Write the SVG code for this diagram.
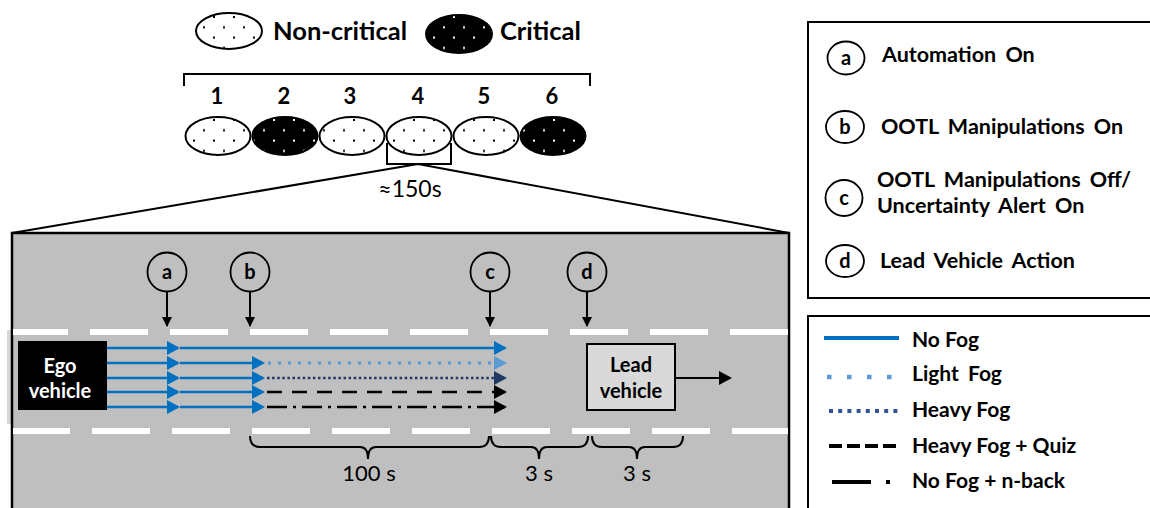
<svg xmlns="http://www.w3.org/2000/svg" width="1150" height="508" viewBox="0 0 1150 508">
<style>
.b{font-family:Lato,"Liberation Sans",sans-serif;font-weight:700;fill:#000}
.r{font-family:Lato,"Liberation Sans",sans-serif;font-weight:400;fill:#000}
.m{text-anchor:middle}
.w{fill:#fff}
.lg{font-size:21.5px;word-spacing:4px}
.nc{fill:url(#pW);stroke:#000;stroke-width:2}
.cr{fill:url(#pB);stroke:#000;stroke-width:2}
.circ{fill:none;stroke:#000;stroke-width:1.8}
.ln{fill:none;stroke:#000;stroke-width:2}
.blue{stroke:#0070c0;stroke-width:2.5;fill:none}
</style>
<defs>
<pattern id="pW" patternUnits="userSpaceOnUse" x="0" y="119" width="20" height="20.6">
<rect width="20" height="20.6" fill="#fff"/>
<rect x="13" y="0" width="2" height="2" fill="#000"/>
<rect x="3" y="10.3" width="2" height="2" fill="#000"/>
</pattern>
<pattern id="pB" patternUnits="userSpaceOnUse" x="0" y="119" width="20" height="20.6">
<rect width="20" height="20.6" fill="#000"/>
<rect x="13" y="0" width="2" height="2" fill="#fff"/>
<rect x="3" y="10.3" width="2" height="2" fill="#fff"/>
</pattern>
<marker id="mB" markerUnits="userSpaceOnUse" markerWidth="14" markerHeight="15" refX="11" refY="7" orient="auto"><path d="M0,0L13,7L0,14z" fill="#0070c0"/></marker>
<marker id="mLB" markerUnits="userSpaceOnUse" markerWidth="14" markerHeight="15" refX="11" refY="7" orient="auto"><path d="M0,0L13,7L0,14z" fill="#5b9bd5"/></marker>
<marker id="mDB" markerUnits="userSpaceOnUse" markerWidth="14" markerHeight="15" refX="11" refY="7" orient="auto"><path d="M0,0L13,7L0,14z" fill="#1f3864"/></marker>
<marker id="mK" markerUnits="userSpaceOnUse" markerWidth="14" markerHeight="15" refX="11" refY="7" orient="auto"><path d="M0,0L13,7L0,14z" fill="#000"/></marker>
<marker id="mS" markerUnits="userSpaceOnUse" markerWidth="11" markerHeight="11" refX="9" refY="5" orient="auto"><path d="M0,0L10,5L0,10z" fill="#000"/></marker>
</defs>

<rect width="1150" height="508" fill="#fff"/>

<g id="legend-noncritical">
<ellipse cx="229" cy="31" rx="33" ry="18" class="nc"/>
<text x="273" y="40" class="b" font-size="25.5">Non-critical</text>
</g>
<g id="legend-critical">
<ellipse cx="459" cy="34" rx="33" ry="19" class="cr"/>
<text x="500" y="40" class="b" font-size="25.5">Critical</text>
</g>

<path class="ln" d="M184,86V74H590V86" stroke-width="2.5"/>
<g id="drive1"><text x="217" y="104" class="b m" font-size="22">1</text><ellipse cx="218" cy="136" rx="32.5" ry="19" class="nc"/></g>
<g id="drive2"><text x="284" y="104" class="b m" font-size="22">2</text><ellipse cx="285" cy="136" rx="32.5" ry="19" class="cr"/></g>
<g id="drive3"><text x="350" y="104" class="b m" font-size="22">3</text><ellipse cx="352" cy="136" rx="32.5" ry="19" class="nc"/></g>
<g id="drive4"><text x="418" y="104" class="b m" font-size="22">4</text><ellipse cx="419" cy="136" rx="32.5" ry="19" class="nc"/></g>
<g id="drive5"><text x="484" y="104" class="b m" font-size="22">5</text><ellipse cx="486" cy="136" rx="32.5" ry="19" class="nc"/></g>
<g id="drive6"><text x="552" y="104" class="b m" font-size="22">6</text><ellipse cx="553" cy="136" rx="32.5" ry="19" class="cr"/></g>

<path class="ln" d="M387,143V164H451V143"/>
<text x="410" y="197" class="r m" font-size="23">≈150s</text>

<g id="road">
<rect x="7" y="330" width="5" height="94" fill="#d6d6d6"/>
<rect x="12" y="233" width="777" height="290" fill="#bfbfbf" stroke="#000" stroke-width="2.5"/>
<line x1="13" y1="332" x2="788" y2="332" stroke="#fff" stroke-width="6" stroke-dasharray="58 22" stroke-dashoffset="3"/>
<line x1="13" y1="431" x2="788" y2="431" stroke="#fff" stroke-width="6" stroke-dasharray="58 22" stroke-dashoffset="1"/>
</g>
<path class="ln" d="M12,233L418,164L789,233"/>

<g id="ego-vehicle">
<rect x="18" y="341" width="89" height="69" fill="#000"/>
<text x="60" y="373" class="b m w" font-size="20">Ego</text>
<text x="60" y="398" class="b m w" font-size="20">vehicle</text>
</g>

<g id="lead-vehicle">
<rect x="587" y="344" width="88" height="66" fill="#d9d9d9" stroke="#000" stroke-width="2"/>
<text x="631" y="372" class="b m" font-size="20">Lead</text>
<text x="631" y="398" class="b m" font-size="20">vehicle</text>
</g>

<g id="marker-a"><circle cx="167" cy="272" r="19.5" class="circ"/><text x="167" y="278.5" class="b m" font-size="20">a</text></g>
<g id="marker-b"><circle cx="250" cy="272" r="19.5" class="circ"/><text x="250" y="278.5" class="b m" font-size="20">b</text></g>
<g id="marker-c"><circle cx="490" cy="272" r="19.5" class="circ"/><text x="490" y="278.5" class="b m" font-size="20">c</text></g>
<g id="marker-d"><circle cx="587" cy="272" r="19.5" class="circ"/><text x="587" y="278.5" class="b m" font-size="20">d</text></g>

<g id="connectors">
<line x1="167" y1="291.5" x2="167" y2="326" class="ln" marker-end="url(#mS)"/>
<line x1="250" y1="291.5" x2="250" y2="326" class="ln" marker-end="url(#mS)"/>
<line x1="490" y1="291.5" x2="490" y2="326" class="ln" marker-end="url(#mS)"/>
<line x1="587" y1="291.5" x2="587" y2="326" class="ln" marker-end="url(#mS)"/>
<line x1="675" y1="378" x2="730" y2="378" class="ln" marker-end="url(#mK)"/>

<line x1="107" y1="348" x2="178" y2="348" class="blue" marker-end="url(#mB)"/>
<line x1="180" y1="348" x2="505" y2="348" class="blue" marker-end="url(#mB)"/>

<line x1="107" y1="363" x2="178" y2="363" class="blue" marker-end="url(#mB)"/>
<line x1="180" y1="363" x2="263" y2="363" class="blue" marker-end="url(#mB)"/>
<line x1="268" y1="363" x2="505" y2="363" stroke="#5b9bd5" stroke-width="3" stroke-dasharray="3 7" marker-end="url(#mLB)"/>

<line x1="107" y1="378" x2="178" y2="378" class="blue" marker-end="url(#mB)"/>
<line x1="180" y1="378" x2="263" y2="378" class="blue" marker-end="url(#mB)"/>
<line x1="267" y1="378" x2="505" y2="378" stroke="#1f3864" stroke-width="2.5" stroke-dasharray="2.5 2.6" marker-end="url(#mDB)"/>

<line x1="107" y1="392" x2="178" y2="392" class="blue" marker-end="url(#mB)"/>
<line x1="180" y1="392" x2="263" y2="392" class="blue" marker-end="url(#mB)"/>
<line x1="267" y1="392" x2="505" y2="392" stroke="#000" stroke-width="2.5" stroke-dasharray="15 10" marker-end="url(#mK)"/>

<line x1="107" y1="407" x2="178" y2="407" class="blue" marker-end="url(#mB)"/>
<line x1="180" y1="407" x2="263" y2="407" class="blue" marker-end="url(#mB)"/>
<line x1="267" y1="407" x2="505" y2="407" stroke="#000" stroke-width="2.5" stroke-dasharray="20 6 3 6" marker-end="url(#mK)"/>
</g>

<g id="braces">
<path class="ln" d="M250,436Q250,447 260,447L360,447Q368,447 368,459Q368,447 376,447L479,447Q489,447 489,436"/>
<path class="ln" d="M491,436Q491,447 501,447L531,447Q539,447 539,459Q539,447 547,447L578,447Q588,447 588,436"/>
<path class="ln" d="M592,436Q592,447 602,447L629,447Q637,447 637,459Q637,447 645,447L673,447Q683,447 683,436"/>
<text x="369" y="481" class="r m" font-size="22">100 s</text>
<text x="539" y="481" class="r m" font-size="22">3 s</text>
<text x="637" y="481" class="r m" font-size="22">3 s</text>
</g>

<g id="events-legend">
<rect x="808" y="22" width="360" height="276" fill="#fff" stroke="#000" stroke-width="2"/>
<ellipse cx="846" cy="58" rx="18.5" ry="16.5" class="circ"/><text x="846" y="64.5" class="b m" font-size="20">a</text>
<text x="882" y="62" class="b lg">Automation On</text>
<ellipse cx="845" cy="127" rx="19" ry="16" class="circ"/><text x="845" y="133.5" class="b m" font-size="20">b</text>
<text x="881" y="134" class="b lg">OOTL Manipulations On</text>
<ellipse cx="844" cy="198" rx="18.5" ry="18" class="circ"/><text x="844" y="204.5" class="b m" font-size="20">c</text>
<text x="877" y="187" class="b lg">OOTL Manipulations Off/</text>
<text x="877" y="213" class="b lg">Uncertainty Alert On</text>
<ellipse cx="845" cy="261" rx="19" ry="16" class="circ"/><text x="845" y="267.5" class="b m" font-size="20">d</text>
<text x="880" y="268" class="b lg">Lead Vehicle Action</text>
</g>

<g id="lines-legend">
<rect x="808" y="316" width="360" height="220" fill="#fff" stroke="#000" stroke-width="2"/>
<line x1="824" y1="338" x2="899" y2="338" stroke="#0070c0" stroke-width="4"/>
<text x="912" y="347" class="b" font-size="21">No Fog</text>
<line x1="827" y1="377" x2="892" y2="377" stroke="#5b9bd5" stroke-width="4.5" stroke-dasharray="4.5 15.5"/>
<text x="912" y="381" class="b" font-size="21" word-spacing="4">Light Fog</text>
<line x1="829" y1="411" x2="898" y2="411" stroke="#2f5597" stroke-width="4" stroke-dasharray="4 5.2"/>
<text x="912" y="417" class="b" font-size="21">Heavy Fog</text>
<line x1="829" y1="446" x2="897" y2="446" stroke="#000" stroke-width="4" stroke-dasharray="13 5"/>
<text x="912" y="453" class="b" font-size="21">Heavy Fog + Quiz</text>
<line x1="832" y1="482" x2="871" y2="482" stroke="#000" stroke-width="4"/>
<rect x="886" y="480" width="4" height="4" fill="#000"/>
<text x="912" y="488" class="b" font-size="21">No Fog + n-back</text>
</g>
</svg>
